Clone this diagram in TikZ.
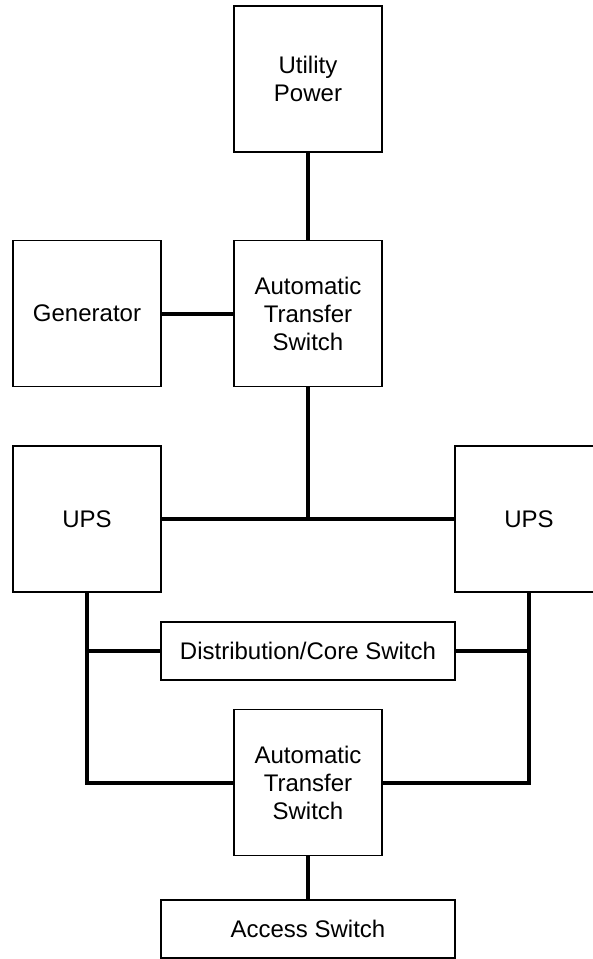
\documentclass[tikz,border=0pt]{standalone}
\usepackage{fontspec}
\setmainfont{Liberation Sans}
\usepackage{tikz}
\usetikzlibrary{calc}

\tikzset{
    kasten/.style={draw, line width=0.7pt, minimum width=74pt, minimum height=73pt,
        inner sep=0pt, align=center, font=\fontsize{12}{14}\selectfont},
    breitkasten/.style={kasten, minimum width=147pt, minimum height=29pt},
    leitung/.style={line width=2pt}
}

\begin{document}
\begin{tikzpicture}[x=0.5pt, y=-0.5pt] % Pixelraster, y nach unten
    \useasboundingbox (0,0) rectangle (593,959);
    % Kaesten der Stromversorgung
    \node[kasten] (utility) at (308,79) {Utility\\Power};
    \node[kasten] (gen) at (87,313.5) {Generator};
    \node[kasten] (ats1) at (308,313.5) {Automatic\\Transfer\\Switch};
    \node[kasten] (upsL) at (87,519) {UPS};
    \node[kasten] (upsR) at (529,519) {UPS};
    % Schalter und zweiter Umschalter
    \node[breitkasten] (dist) at (308,651) {Distribution/Core Switch};
    \node[kasten] (ats2) at (308,782.5) {Automatic\\Transfer\\Switch};
    \node[breitkasten] (access) at (308,929) {Access Switch};
    % Hilfspunkte fuer die Abzweigungen
    \coordinate (knoten) at (ats1.south |- upsL.east);
    \coordinate (linksunten) at (upsL.south |- ats2.west);
    \coordinate (rechtsunten) at (upsR.south |- ats2.east);
    % Leitungen
    \draw[leitung] (utility.south) -- (ats1.north);
    \draw[leitung] (gen.east) -- (ats1.west);
    \draw[leitung] (ats1.south) -- (knoten);
    \draw[leitung] (upsL.east) -- (upsR.west);
    \draw[leitung] (upsL.south) -- (linksunten) -- (ats2.west);
    \draw[leitung] (upsR.south) -- (rechtsunten) -- (ats2.east);
    \draw[leitung] (dist.west) -- (dist.west -| linksunten);
    \draw[leitung] (dist.east) -- (dist.east -| rechtsunten);
    \draw[leitung] (ats2.south) -- (access.north);
\end{tikzpicture}
\end{document}
